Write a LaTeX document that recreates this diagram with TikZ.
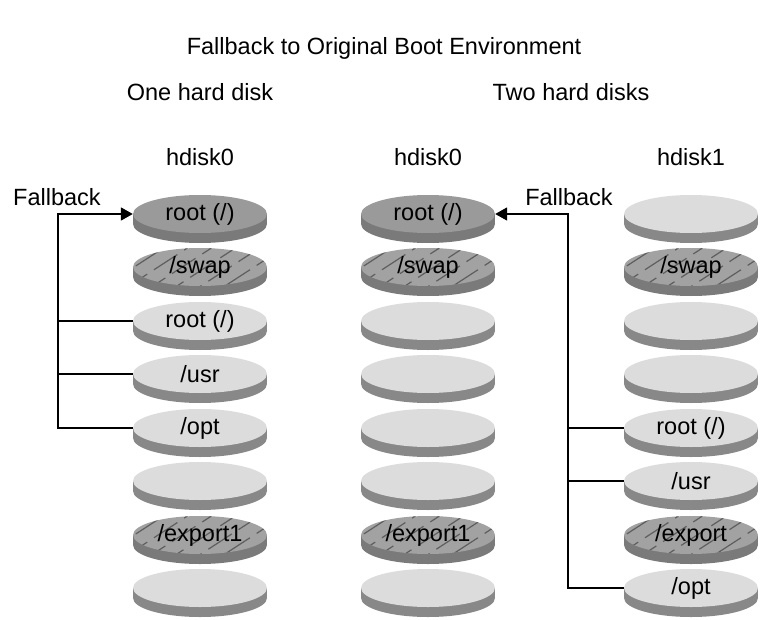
\documentclass[tikz,border=0pt]{standalone}
\usepackage{fontspec}
\setmainfont{Liberation Sans}
\usetikzlibrary{shapes.geometric,arrows.meta}
\definecolor{darktop}{HTML}{9A9A9A}
\definecolor{darkband}{HTML}{7A7A7A}
\definecolor{lighttop}{HTML}{DCDCDC}
\definecolor{lightband}{HTML}{888888}
\definecolor{hatchtop}{HTML}{A2A2A2}
\definecolor{hatchband}{HTML}{7A7A7A}
\definecolor{hatchline}{HTML}{5E5E5E}
\newcommand\mydisk[5]{%
  \fill[#4band] (#2-67,#3) rectangle (#2+67,#3+10);
  \fill[#4band] (#2,#3+10) ellipse [x radius=67, y radius=19];
  \node[disk, #4] (#1) at (#2,#3) {#5};
}
\begin{document}
\begin{tikzpicture}[x=1pt,y=-1pt,
  lbl/.style={font=\fontsize{23.5}{27}\selectfont, inner sep=0pt},
  disk/.style={ellipse, minimum width=134pt, minimum height=38pt, inner sep=0pt, font=\fontsize{23.5}{27}\selectfont},
  dark/.style={fill=darktop},
  light/.style={fill=lighttop},
  hatch/.style={fill=hatchtop, path picture={
      \foreach \i in {-5,...,5}
        \draw[hatchline, line width=1.2pt, dash pattern=on 28pt off 8pt, dash phase=\i*7pt]
          ([xshift=\i*24pt-40pt, yshift=-30pt]path picture bounding box.center) -- ++(33:110pt);}},
  conn/.style={line width=1.8pt, black},
  arr/.style={conn, -{Triangle[length=12pt,width=13pt]}}]
\useasboundingbox (0,0) rectangle (762,620);
\fill[white] (0,0) rectangle (762,620);

\node[lbl] (title) at (384,48) {Fallback to Original Boot Environment};
\node[lbl] (one) at (200,92) {One hard disk};
\node[lbl] (two) at (571,92) {Two hard disks};
\node[lbl] (h0a) at (200,157) {hdisk0};
\node[lbl] (h0b) at (428,157) {hdisk0};
\node[lbl] (h1) at (691,157) {hdisk1};
\node[lbl] (fbl) at (57,197) {Fallback};
\node[lbl] (fbr) at (569,197) {Fallback};

% left column
\mydisk{L1}{200}{214}{dark}{root (/)}
\mydisk{L2}{200}{267}{hatch}{/swap}
\mydisk{L3}{200}{321}{light}{root (/)}
\mydisk{L4}{200}{374}{light}{/usr}
\mydisk{L5}{200}{428}{light}{/opt}
\mydisk{L6}{200}{481}{light}{}
\mydisk{L7}{200}{535}{hatch}{/export1}
\mydisk{L8}{200}{588}{light}{}

% middle column
\mydisk{M1}{428}{214}{dark}{root (/)}
\mydisk{M2}{428}{267}{hatch}{/swap}
\mydisk{M3}{428}{321}{light}{}
\mydisk{M4}{428}{374}{light}{}
\mydisk{M5}{428}{428}{light}{}
\mydisk{M6}{428}{481}{light}{}
\mydisk{M7}{428}{535}{hatch}{/export1}
\mydisk{M8}{428}{588}{light}{}

% right column
\mydisk{R1}{691}{214}{light}{}
\mydisk{R2}{691}{267}{hatch}{/swap}
\mydisk{R3}{691}{321}{light}{}
\mydisk{R4}{691}{374}{light}{}
\mydisk{R5}{691}{428}{light}{root (/)}
\mydisk{R6}{691}{481}{light}{/usr}
\mydisk{R7}{691}{535}{hatch}{/export}
\mydisk{R8}{691}{588}{light}{/opt}

% left connectors
\coordinate (lt) at (58,214);
\draw[arr] (L5.west) -- (L5.west -| lt) -- (lt) -- (L1.west);
\draw[conn] (L3.west) -- (L3.west -| lt);
\draw[conn] (L4.west) -- (L4.west -| lt);

% right connectors
\coordinate (rt) at (568,214);
\draw[arr] (R8.west) -- (R8.west -| rt) -- (rt) -- (M1.east);
\draw[conn] (R5.west) -- (R5.west -| rt);
\draw[conn] (R6.west) -- (R6.west -| rt);
\end{tikzpicture}
\end{document}
